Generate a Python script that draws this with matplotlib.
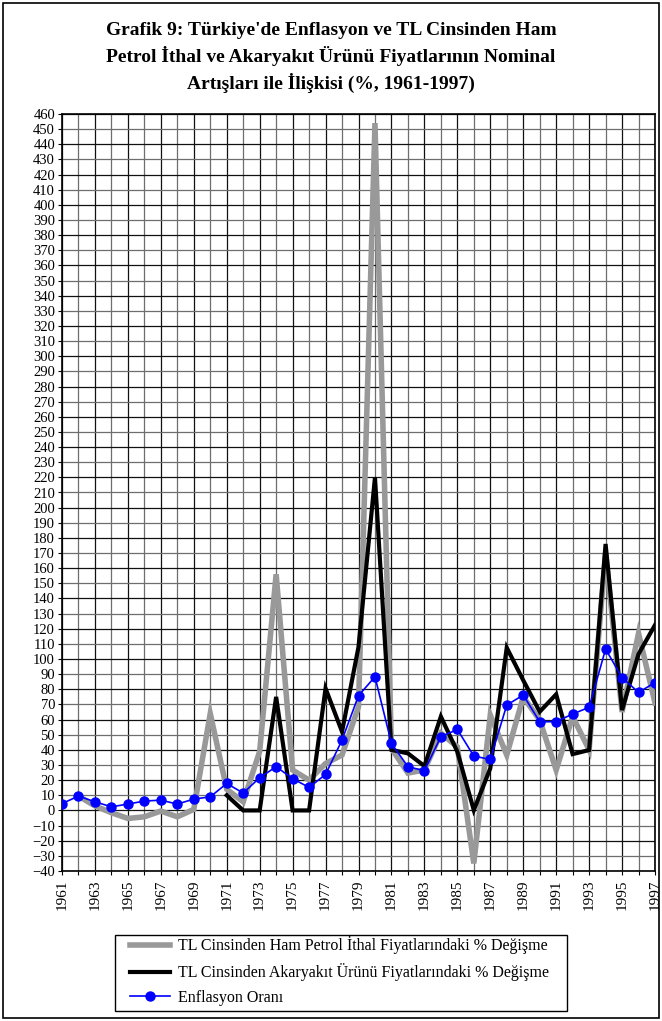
import matplotlib.pyplot as plt
from matplotlib.patches import Rectangle

years = list(range(1961, 1998))

# TL cinsinden ham petrol ithal fiyatlarindaki % degisme (1962'den itibaren)
ham_petrol = [None, 9.5, 3, -1.5, -5.3, -4.2, -0.4, -4.2, 0.7, 64,
              14, 5.7, 39, 156, 26.7, 20, 31, 36.6, 68.5, 454,
              41, 24.7, 26.7, 51, 42, -35, 63, 36.6, 75, 59.7,
              26.7, 62, 40, 170, 65, 117, 71]

# TL cinsinden akaryakit urunu fiyatlarindaki % degisme (1971'den itibaren)
akaryakit = [None] * 10 + [10, 0, 0, 75, 0, 0, 80.6, 52, 108, 220,
                           40, 37.7, 29.3, 62, 38.8, 0.2, 27.8, 107.5, 86, 65.2,
                           76.7, 37.2, 39.9, 176, 66.3, 103.3, 122.5]

enflasyon = [4.5, 9.5, 5.7, 2.4, 4.2, 6.2, 6.8, 4.2, 7.5, 9,
             17.8, 11.5, 21.6, 28.9, 21, 15.2, 23.8, 46.5, 75.8, 88.3,
             44.3, 28.9, 26.2, 48.7, 53.5, 35.9, 33.7, 69.6, 76.2, 58.6,
             58.6, 63.7, 68.1, 106.6, 87.7, 78, 84.4]

labels = ["TL Cinsinden Ham Petrol İthal Fiyatlarındaki % Değişme",
          "TL Cinsinden Akaryakıt Ürünü Fiyatlarındaki % Değişme",
          "Enflasyon Oranı"]

title = ("Grafik 9: Türkiye'de Enflasyon ve TL Cinsinden Ham\n"
         "Petrol İthal ve Akaryakıt Ürünü Fiyatlarının Nominal\n"
         "Artışları ile İlişkisi (%, 1961-1997)")

plt.rcParams['font.family'] = ['Liberation Serif', 'DejaVu Serif']

fig = plt.figure(figsize=(6.62, 10.21), dpi=100)
W, H = 662, 1021
ax = fig.add_axes([62 / W, 1 - 871 / H, (655 - 62) / W, (871 - 114) / H])

hp = [float('nan') if v is None else v for v in ham_petrol]
ak = [float('nan') if v is None else v for v in akaryakit]

ax.plot(years, hp, color='#999999', lw=4.0, solid_joinstyle='miter', zorder=3, label=labels[0])
ax.plot(years, ak, color='black', lw=3.0, solid_joinstyle='miter', zorder=4, label=labels[1])
ax.plot(years, enflasyon, color='#0000ff', lw=1.2, marker='o', ms=6.5, zorder=5, label=labels[2])

ax.set_xlim(1961, 1997)
ax.set_ylim(-40, 460)
ax.set_yticks(range(-40, 461, 10))
ax.set_xticks(years)
ax.set_xticklabels([str(y) if (y - 1961) % 2 == 0 else '' for y in years], rotation=90)
ax.tick_params(axis='y', labelsize=10.5, length=3, width=0.8, pad=2)
ax.tick_params(axis='x', labelsize=11, length=3, width=0.8, pad=3)
ax.grid(True, lw=0.9, zorder=1)
ax.set_axisbelow(True)
# grid lines alternate dark / mid grey like the scanned original
for i, gl in enumerate(ax.get_ygridlines()):
    gl.set_color('#111111' if i % 2 == 0 else '#6e6e6e')
for i, gl in enumerate(ax.get_xgridlines()):
    gl.set_color('#111111' if i % 2 == 0 else '#6e6e6e')
for s in ax.spines.values():
    s.set_linewidth(1.2)
    s.set_color('black')

fig.text(0.5, 1 - 22 / H, title, ha='center', va='top', fontsize=14,
         fontweight='bold', linespacing=1.45)

# legend without its own frame; box drawn separately so the handles sit inset
fig.legend(loc='lower left', bbox_to_anchor=(130 / W, 1 - 1006 / H, (565 - 130) / W, (1006 - 937) / H),
           mode='expand', fontsize=11.5, frameon=False,
           handlelength=2.5, handletextpad=0.5, borderaxespad=0, labelspacing=0.55, borderpad=0)
fig.add_artist(Rectangle((115 / W, 1 - 1011 / H), (567 - 115) / W, (1011 - 935) / H,
                         transform=fig.transFigure, fill=False, edgecolor='black', lw=1.0))

fig.add_artist(Rectangle((3 / W, 3 / H), 1 - 6 / W, 1 - 6 / H, transform=fig.transFigure,
                         fill=False, edgecolor='black', lw=1.2))

fig.savefig('out.png', dpi=100)
